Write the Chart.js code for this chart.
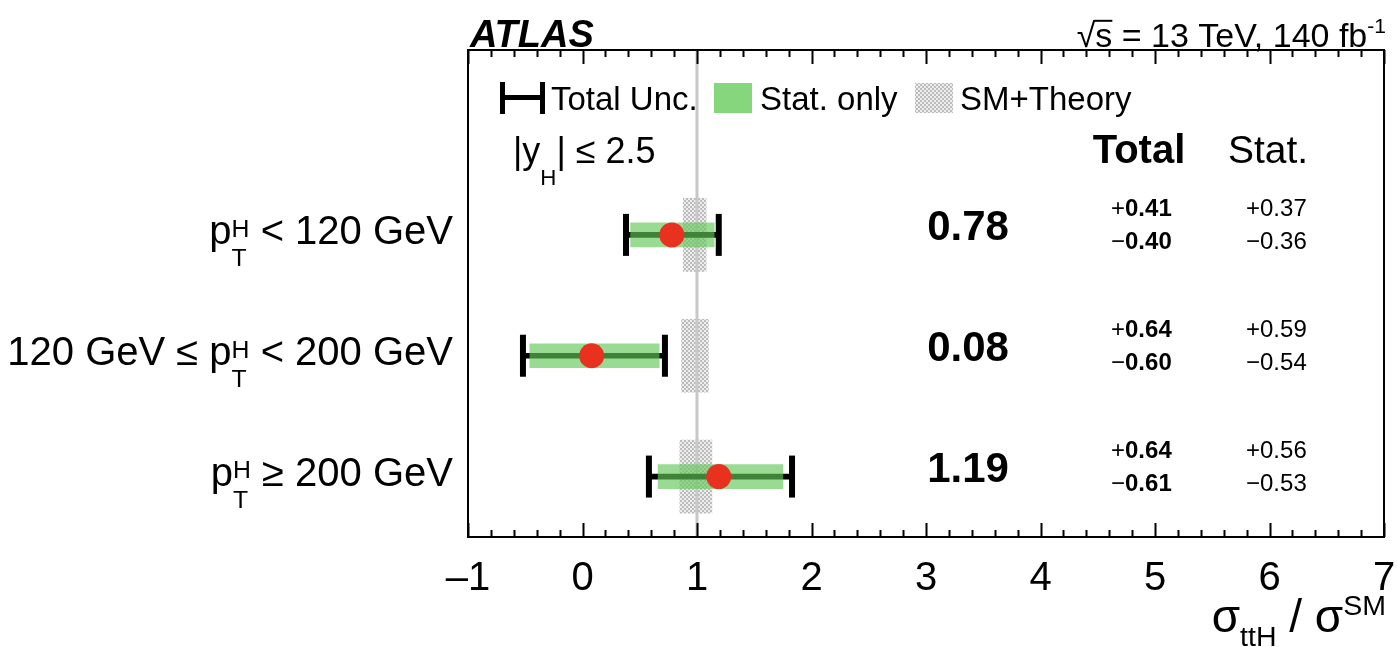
<!DOCTYPE html>
<html>
<head>
<meta charset="utf-8">
<script src="https://cdn.jsdelivr.net/npm/chart.js@4.4.1/dist/chart.umd.min.js"></script>
<style>
  html, body { margin: 0; padding: 0; background: #fff; }
  #wrap { width: 1397px; height: 647px; position: relative; }
</style>
</head>
<body>
<div id="wrap"><canvas id="dia"></canvas></div>
<script>
//--------------- data ---------------//
var binLabels = [
  ['p', {sub: 'T', sup: 'H'}, ' < 120 GeV'],
  ['120 GeV \u2264 p', {sub: 'T', sup: 'H'}, ' < 200 GeV'],
  ['p', {sub: 'T', sup: 'H'}, ' \u2265 200 GeV']
];
var rowPos   = [0, 1, 2];
var muBest   = [0.78, 0.08, 1.19];
var totUp    = [0.41, 0.64, 0.64];
var totDown  = [0.40, 0.60, 0.61];
var statUp   = [0.37, 0.59, 0.56];
var statDown = [0.36, 0.54, 0.53];
var smLow    = [0.88, 0.865, 0.85];
var smHigh   = [1.08, 1.10, 1.13];
var smRef = 1;
var xMin = -1, xMax = 7;
var yMin = -1.53, yMax = 2.5;

var FONT = '"Liberation Sans", Arial, Helvetica, sans-serif';
Chart.defaults.font.family = FONT;

function fnt(size, bold, italic) {
  return (italic ? 'italic ' : '') + (bold ? 'bold ' : '') + size + 'px ' + FONT;
}
function fmt(v) {
  return v.toFixed(2);
}

//--------------- rich text (sub/superscripts) ---------------//
function partWidth(ctx, p, size, bold, sc) {
  if (typeof p === 'string') { ctx.font = fnt(size, bold); return ctx.measureText(p).width; }
  if (p.t !== undefined) { ctx.font = fnt(size, p.b !== undefined ? p.b : bold); return ctx.measureText(p.t).width; }
  ctx.font = fnt(size * sc, bold);
  return Math.max(p.sub ? ctx.measureText(p.sub).width : 0, p.sup ? ctx.measureText(p.sup).width : 0);
}
function drawRich(ctx, parts, x, y, size, o) {
  o = o || {};
  var bold = !!o.bold, sc = o.sc || 0.62;
  var subDy = o.subDy !== undefined ? o.subDy : 0.55;
  var supDy = o.supDy !== undefined ? o.supDy : 0.18;
  var w = 0;
  parts.forEach(function(p) { w += partWidth(ctx, p, size, bold, sc); });
  var cx = o.align === 'right' ? x - w : (o.align === 'center' ? x - w / 2 : x);
  ctx.save();
  ctx.textAlign = 'left';
  ctx.textBaseline = 'alphabetic';
  ctx.fillStyle = '#000';
  parts.forEach(function(p) {
    var pw = partWidth(ctx, p, size, bold, sc);
    if (typeof p === 'string' || p.t !== undefined) {
      var s = typeof p === 'string' ? p : p.t;
      ctx.fillText(s, cx, y);
      if (p.over) {
        ctx.fillRect(cx - 1, y - size * 0.8, pw + 1, 2);
      }
    } else {
      if (p.sub) ctx.fillText(p.sub, cx, y + size * subDy);
      if (p.sup) ctx.fillText(p.sup, cx, y - size * supDy);
    }
    cx += pw;
  });
  ctx.restore();
}

//--------------- hatch pattern for SM band ---------------//
var canvas = document.getElementById('dia');
function makeHatch(ctx) {
  var c = document.createElement('canvas');
  c.width = 4; c.height = 4;
  var g = c.getContext('2d');
  g.fillStyle = '#ededed';
  g.fillRect(0, 0, 4, 4);
  g.fillStyle = '#bcbcbc';
  g.fillRect(0, 0, 2, 2);
  g.fillRect(2, 2, 2, 2);
  return ctx.createPattern(c, 'repeat');
}
var hatch = makeHatch(canvas.getContext('2d'));

//--------------- decorations: frame, ticks, texts, legend ---------------//
var atlasDecor = {
  id: 'atlasDecor',
  afterDraw: function(chart) {
    var ctx = chart.ctx, a = chart.chartArea;
    var xs = chart.scales.x, ys = chart.scales.y;
    ctx.save();
    // frame
    ctx.strokeStyle = '#000';
    ctx.lineWidth = 2;
    ctx.strokeRect(a.left, a.top, a.right - a.left, a.bottom - a.top);
    // inner ticks, top and bottom
    ctx.lineWidth = 2;
    for (var k = 0; k <= (xMax - xMin) * 5; k++) {
      var v = xMin + k * 0.2;
      var px = Math.round(xs.getPixelForValue(v)) + 0.5;
      var len = (k % 5 === 0) ? 14 : 7;
      ctx.beginPath();
      ctx.moveTo(px, a.bottom); ctx.lineTo(px, a.bottom - len);
      ctx.moveTo(px, a.top); ctx.lineTo(px, a.top + len);
      ctx.stroke();
    }
    ctx.restore();

    // header texts
    ctx.save();
    ctx.fillStyle = '#000';
    ctx.font = fnt(38, true, true);
    ctx.textBaseline = 'alphabetic';
    ctx.fillText('ATLAS', 470, 47);
    ctx.restore();
    drawRich(ctx, ['\u221A', {t: 's', over: true}, ' = 13 TeV, 140 fb', {sup: '-1'}], 1386, 47, 34, {align: 'right', supDy: 0.42});

    // axis title
    drawRich(ctx, ['\u03C3', {sub: 'ttH'}, ' / \u03C3', {sup: 'SM'}], 1386, 632, 46, {align: 'right', subDy: 0.3, supDy: 0.36});

    // region label and column headers
    drawRich(ctx, ['|y', {sub: 'H'}, '| \u2264 2.5'], 513, 163, 36, {subDy: 0.6});
    drawRich(ctx, ['Total'], 1139, 163, 40, {bold: true, align: 'center'});
    drawRich(ctx, ['Stat.'], 1268, 163, 39, {align: 'center'});

    // per-bin labels and numbers
    for (var i = 0; i < rowPos.length; i++) {
      var py = ys.getPixelForValue(rowPos[i]);
      drawRich(ctx, binLabels[i], 453, py + 9, 40, {align: 'right'});
      drawRich(ctx, [fmt(muBest[i])], 968, py + 5, 42, {bold: true, align: 'center'});
      drawRich(ctx, [{t: '+', b: false}, {t: fmt(totUp[i]), b: true}], 1111, py - 19, 24);
      drawRich(ctx, [{t: '\u2212', b: false}, {t: fmt(totDown[i]), b: true}], 1111, py + 14, 24);
      drawRich(ctx, ['+' + fmt(statUp[i])], 1246, py - 19, 24);
      drawRich(ctx, ['\u2212' + fmt(statDown[i])], 1246, py + 14, 24);
    }

    // legend
    ctx.save();
    ctx.fillStyle = '#000';
    ctx.fillRect(500, 82, 5, 32);
    ctx.fillRect(540, 82, 5, 32);
    ctx.fillRect(500, 95, 45, 5);
    ctx.fillStyle = '#86d67e';
    ctx.fillRect(714, 83, 38, 30);
    ctx.fillStyle = hatch;
    ctx.fillRect(915, 83, 38, 30);
    ctx.restore();
    drawRich(ctx, ['Total Unc.'], 551, 110, 33);
    drawRich(ctx, ['Stat. only'], 760, 110, 33);
    drawRich(ctx, ['SM+Theory'], 960, 110, 33);
  }
};

//--------------- chart ---------------//
const dia = new Chart(canvas, {
  type: 'bar',
  data: {
    datasets: [
      {
        type: 'bar',
        label: 'SM+Theory',
        indexAxis: 'y',
        data: rowPos.map(function(r, i) { return {y: r, x: [smLow[i], smHigh[i]]}; }),
        backgroundColor: hatch,
        barThickness: 73,
        grouped: false,
        order: 6
      },
      {
        type: 'line',
        label: 'SM',
        data: [{x: smRef, y: yMin}, {x: smRef, y: yMax}],
        borderColor: '#c8c8c8',
        borderWidth: 3,
        pointRadius: 0,
        order: 5
      },
      {
        type: 'bar',
        label: 'Total line',
        indexAxis: 'y',
        data: rowPos.map(function(r, i) { return {y: r, x: [muBest[i] - totDown[i], muBest[i] + totUp[i]]}; }),
        backgroundColor: '#000',
        barThickness: 5,
        grouped: false,
        order: 4
      },
      {
        type: 'bar',
        label: 'Stat. only',
        indexAxis: 'y',
        data: rowPos.map(function(r, i) { return {y: r, x: [muBest[i] - statDown[i], muBest[i] + statUp[i]]}; }),
        backgroundColor: 'rgba(100, 200, 90, 0.65)',
        barThickness: 24,
        grouped: false,
        order: 3
      },
      {
        type: 'scatter',
        label: 'Total Unc.',
        data: rowPos.map(function(r, i) { return {y: r, x: muBest[i] - totDown[i]}; })
          .concat(rowPos.map(function(r, i) { return {y: r, x: muBest[i] + totUp[i]}; })),
        pointStyle: 'line',
        rotation: 90,
        pointRadius: 21,
        borderColor: '#000',
        borderWidth: 6,
        order: 2
      },
      {
        type: 'scatter',
        label: 'Best fit',
        data: rowPos.map(function(r, i) { return {y: r, x: muBest[i]}; }),
        pointRadius: 12.5,
        backgroundColor: '#e8321f',
        borderWidth: 0,
        order: 1
      }
    ]
  },
  options: {
    responsive: true,
    maintainAspectRatio: false,
    animation: false,
    events: [],
    layout: { autoPadding: false, padding: { left: 468, right: 13, top: 50, bottom: 0 } },
    plugins: { legend: { display: false }, tooltip: { enabled: false } },
    scales: {
      x: {
        type: 'linear',
        min: xMin,
        max: xMax,
        offset: false,
        grid: { display: false, drawTicks: false },
        border: { display: false },
        ticks: {
          stepSize: 1,
          color: '#000',
          font: { size: 40, family: FONT },
          padding: 18,
          maxRotation: 0,
          autoSkip: false,
          callback: function(v) { return v < 0 ? '\u2013' + Math.abs(v) : '' + v; }
        },
        afterFit: function(s) {
          s.height = 110;
          s.paddingLeft = 0;
          s.paddingRight = 0;
        }
      },
      y: {
        type: 'linear',
        min: yMin,
        max: yMax,
        reverse: true,
        offset: false,
        display: false
      }
    }
  },
  plugins: [atlasDecor]
});
</script>
</body>
</html>
